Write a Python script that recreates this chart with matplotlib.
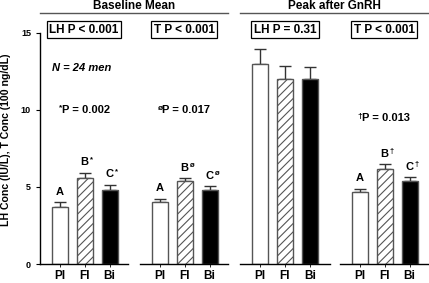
import numpy as np
import matplotlib
matplotlib.use('Agg')
import matplotlib.pyplot as plt

plt.rcParams['font.family'] = ['Liberation Sans', 'DejaVu Sans']
plt.rcParams['font.weight'] = 'bold'
plt.rcParams['hatch.linewidth'] = 0.8

groups = ['Pl', 'Fl', 'Bi']
# baseline LH, baseline T, peak LH, peak T
means_lh_base = [3.71, 5.59, 4.79]
err_lh_base = [0.32, 0.35, 0.37]
means_t_base = [4.01, 5.37, 4.79]
err_t_base = [0.24, 0.22, 0.26]
means_lh_peak = [12.99, 11.99, 11.99]
err_lh_peak = [0.97, 0.87, 0.83]
means_t_peak = [4.66, 6.15, 5.39]
err_t_peak = [0.24, 0.32, 0.26]

box_labels = ['LH P < 0.001', 'T P < 0.001', 'LH P = 0.31', 'T P < 0.001']
letters = [['A', 'B', 'C'], ['A', 'B', 'C'], None, ['A', 'B', 'C']]
marks = ['*', '\u00f8', None, '\u2020']
sig_text = ['P = 0.002', 'P = 0.017', None, 'P = 0.013']
sig_y = [10.0, 10.0, None, 9.45]

all_means = [means_lh_base, means_t_base, means_lh_peak, means_t_peak]
all_errs = [err_lh_base, err_t_base, err_lh_peak, err_t_peak]

W, H = 429, 283
fig = plt.figure(figsize=(W / 100, H / 100), dpi=100)

lefts = [40, 140, 240, 340]
widths = [88, 88, 90, 88]
bottom = (H - 264) / H
height = (264 - 33) / H

faces = ['white', 'white', 'black']
hatches = [None, '////', None]
edge = '#555555'

x = np.arange(3)
axes = []
for i in range(4):
    ax = fig.add_axes([lefts[i] / W, bottom, widths[i] / W, height])
    axes.append(ax)
    m = all_means[i]
    e = all_errs[i]
    ax.errorbar(x, m, yerr=[np.zeros(3), e], fmt='none', ecolor='#333333',
                elinewidth=1.0, capsize=4, capthick=1.0, zorder=1)
    for j in range(3):
        ax.bar(x[j], m[j], width=0.64, color=faces[j], edgecolor=edge,
               hatch=hatches[j], linewidth=1.0, zorder=2)
    ax.set_ylim(0, 15)
    ax.set_xlim(-0.78, 2.74 if i != 2 else 2.8)
    ax.set_xticks(x)
    ax.set_xticklabels(groups, fontsize=8.5, fontweight='bold')
    ax.tick_params(axis='x', length=2, width=0.6, pad=2.5)
    for s in ['top', 'right']:
        ax.spines[s].set_visible(False)
    ax.spines['bottom'].set_linewidth(1.0)
    if i == 0:
        ax.set_yticks([0, 5, 10, 15])
        ax.tick_params(axis='y', labelsize=6.5, length=3, width=0.8)
        for lab in ax.get_yticklabels():
            lab.set_fontweight('bold')
        ax.spines['left'].set_linewidth(1.0)
        ax.set_ylabel('LH Conc (IU/L), T Conc (100 ng/dL)', fontsize=7.6,
                      fontweight='bold')
        ax.yaxis.set_label_coords(-0.33, 0.54)
    else:
        ax.spines['left'].set_visible(False)
        ax.set_yticks([])

    # p-value box
    ax.text(0.5, 1.015, box_labels[i], transform=ax.transAxes, ha='center',
            va='center', fontsize=8.5, fontweight='bold', clip_on=False,
            bbox=dict(boxstyle='square,pad=0.2', fc='white', ec='black', lw=0.9))

    if letters[i] is not None:
        for j in range(3):
            ax.text(x[j], m[j] + e[j] + 0.35, letters[i][j], ha='center',
                    va='bottom', fontsize=8, fontweight='bold')
            if j > 0:
                ax.text(x[j] + 0.28, m[j] + e[j] + 0.6, marks[i], ha='center',
                        va='bottom', fontsize=5.5, fontweight='bold')
        ax.text(1.05, sig_y[i], sig_text[i], ha='center', va='center',
                fontsize=8, fontweight='bold')
        ax.text(0.03, sig_y[i] + 0.12, marks[i], ha='center', va='center',
                fontsize=6, fontweight='bold')

axes[0].text(-0.3, 12.75, 'N = 24 men', ha='left', va='center', fontsize=8,
             fontweight='bold', fontstyle='italic')

# group headers with rules
for x0, x1, label in [(40, 228, 'Baseline Mean'), (240, 428, 'Peak after GnRH')]:
    yl = 1 - 12.5 / H
    fig.add_artist(plt.Line2D([x0 / W, x1 / W], [yl, yl], color='#555555', lw=1.0))
    fig.text((x0 + x1) / 2 / W, 1 - 6 / H, label, ha='center', va='center',
             fontsize=8.5, fontweight='bold')

fig.savefig('out.png', dpi=100)
